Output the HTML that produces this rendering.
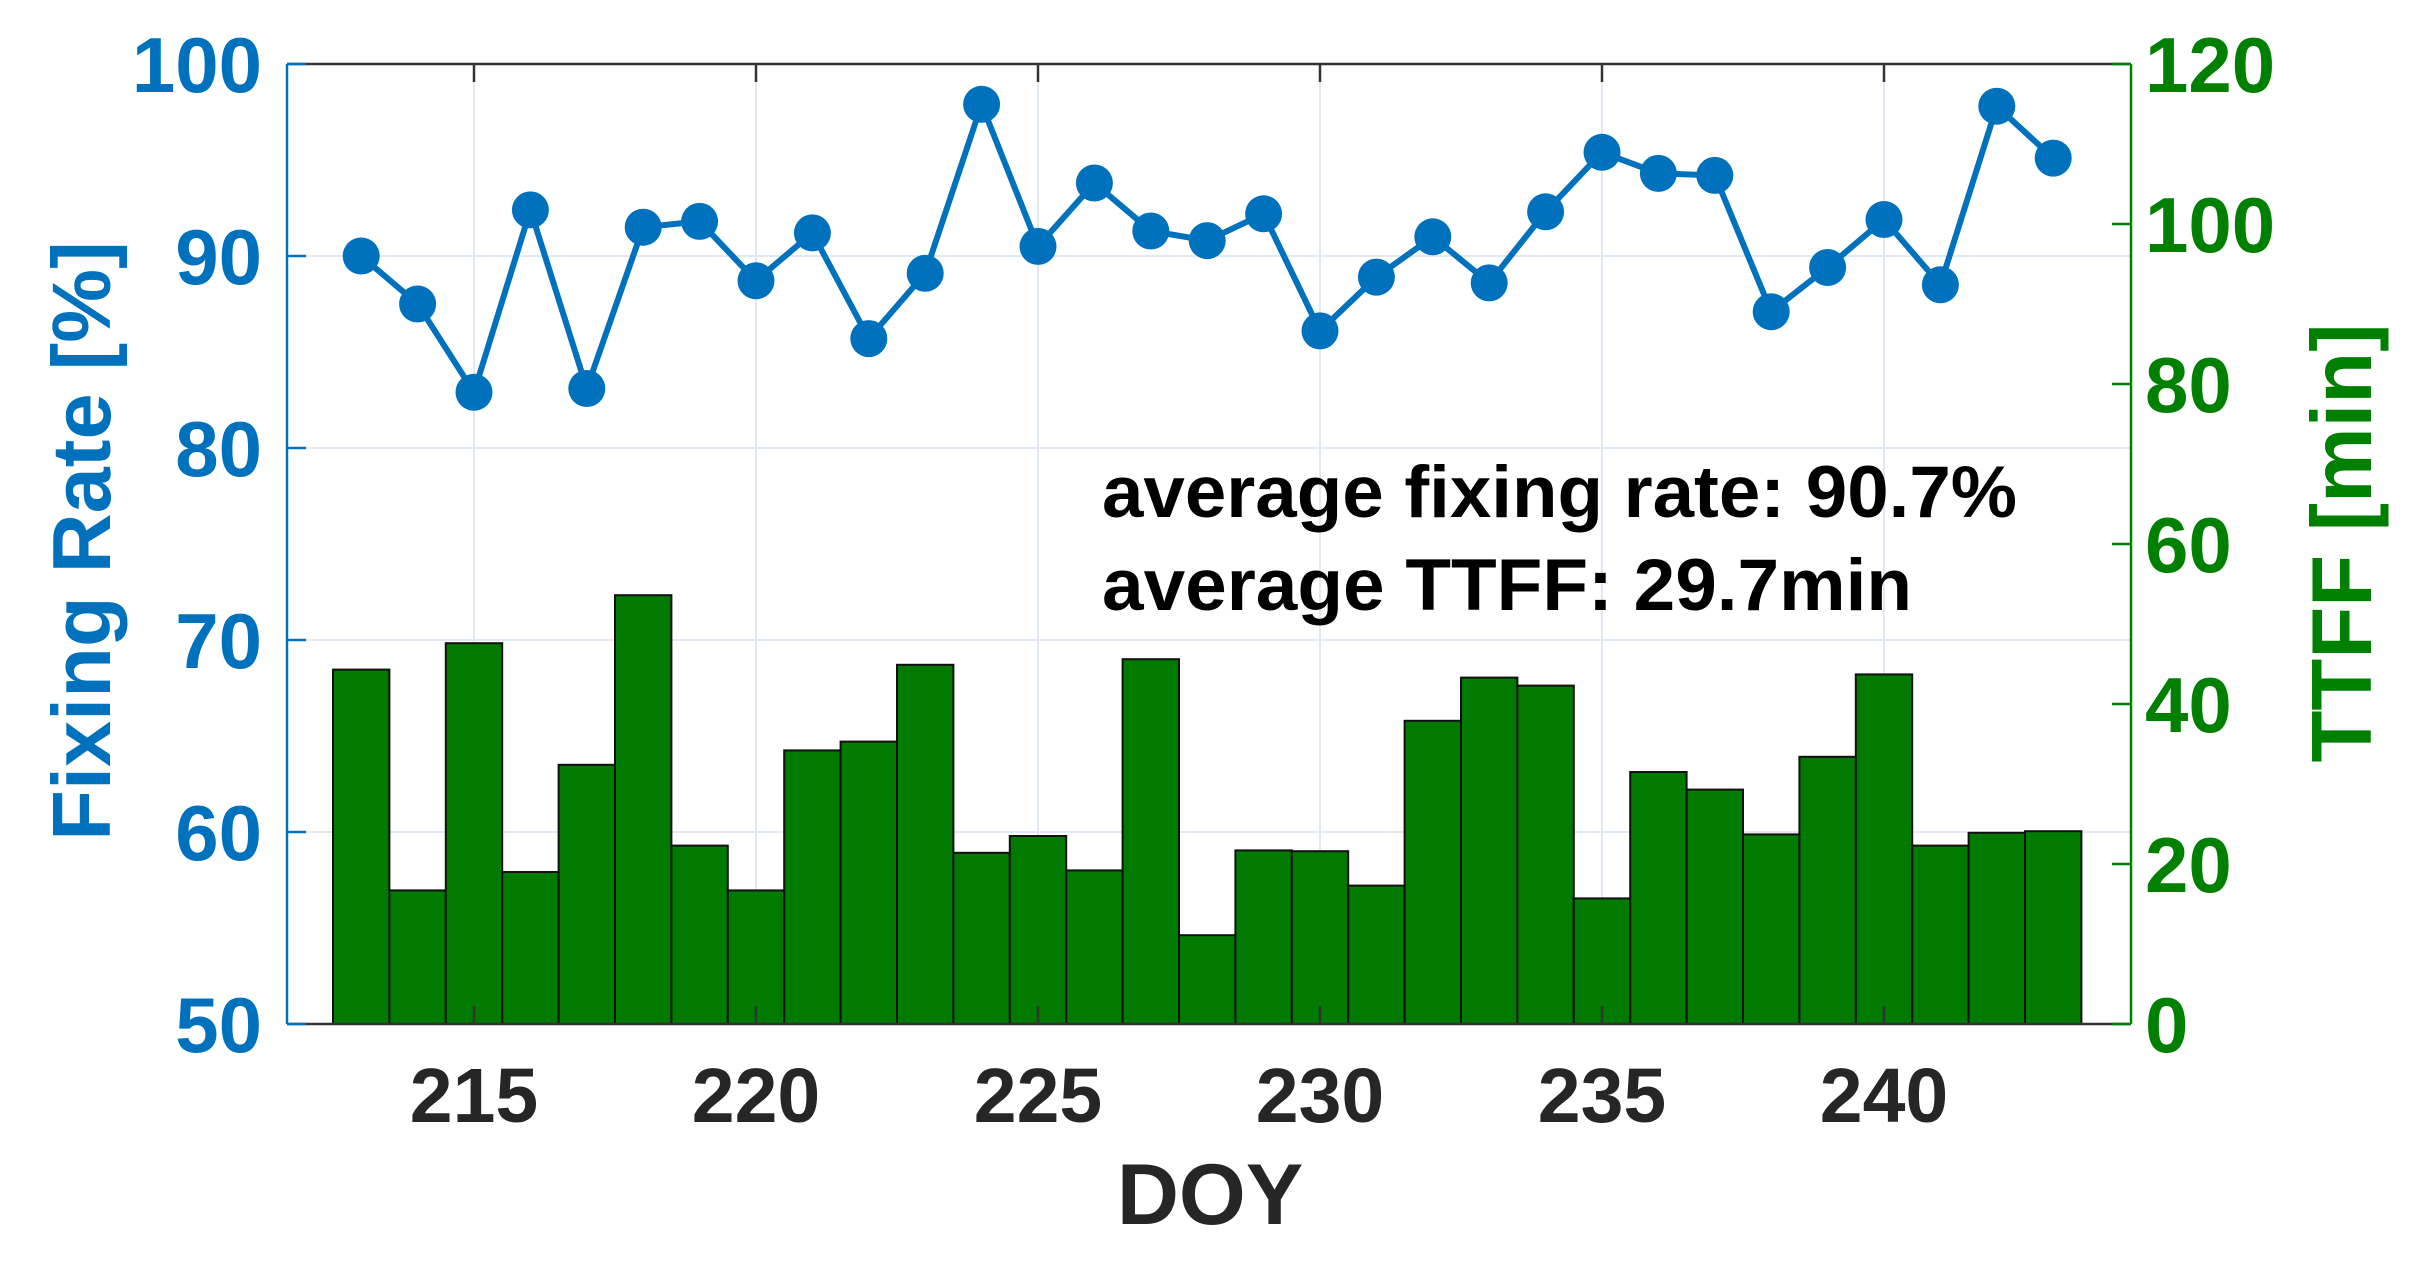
<!DOCTYPE html>
<html><head><meta charset="utf-8"><style>html,body{margin:0;padding:0;background:#fff}svg{display:block}</style></head>
<body>
<svg width="2431" height="1265" viewBox="0 0 2431 1265" xmlns="http://www.w3.org/2000/svg" font-family="Liberation Sans, Arial, sans-serif" font-weight="bold">
<rect width="2431" height="1265" fill="#fff"/>
<g stroke="#e1e9f2" stroke-width="2">
<line x1="474" y1="64" x2="474" y2="1024"/><line x1="756" y1="64" x2="756" y2="1024"/><line x1="1038" y1="64" x2="1038" y2="1024"/><line x1="1320" y1="64" x2="1320" y2="1024"/><line x1="1602" y1="64" x2="1602" y2="1024"/><line x1="1884" y1="64" x2="1884" y2="1024"/>
<line x1="287" y1="256" x2="2131" y2="256"/><line x1="287" y1="448" x2="2131" y2="448"/><line x1="287" y1="640" x2="2131" y2="640"/><line x1="287" y1="832" x2="2131" y2="832"/>
</g>
<g fill="#007a00" stroke="#111" stroke-width="2">
<rect x="333" y="669.6" width="56.4" height="354.4"/>
<rect x="389.4" y="890.4" width="56.4" height="133.6"/>
<rect x="445.8" y="643.2" width="56.4" height="380.8"/>
<rect x="502.2" y="872" width="56.4" height="152"/>
<rect x="558.6" y="764.8" width="56.4" height="259.2"/>
<rect x="615" y="595.2" width="56.4" height="428.8"/>
<rect x="671.4" y="845.6" width="56.4" height="178.4"/>
<rect x="727.8" y="890.4" width="56.4" height="133.6"/>
<rect x="784.2" y="750.4" width="56.4" height="273.6"/>
<rect x="840.6" y="741.6" width="56.4" height="282.4"/>
<rect x="897" y="664.8" width="56.4" height="359.2"/>
<rect x="953.4" y="852.8" width="56.4" height="171.2"/>
<rect x="1009.8" y="836" width="56.4" height="188"/>
<rect x="1066.2" y="870.4" width="56.4" height="153.6"/>
<rect x="1122.6" y="659.2" width="56.4" height="364.8"/>
<rect x="1179" y="935.2" width="56.4" height="88.8"/>
<rect x="1235.4" y="850.4" width="56.4" height="173.6"/>
<rect x="1291.8" y="851.2" width="56.4" height="172.8"/>
<rect x="1348.2" y="885.6" width="56.4" height="138.4"/>
<rect x="1404.6" y="720.8" width="56.4" height="303.2"/>
<rect x="1461" y="677.6" width="56.4" height="346.4"/>
<rect x="1517.4" y="685.6" width="56.4" height="338.4"/>
<rect x="1573.8" y="898.4" width="56.4" height="125.6"/>
<rect x="1630.2" y="772" width="56.4" height="252"/>
<rect x="1686.6" y="789.6" width="56.4" height="234.4"/>
<rect x="1743" y="834.4" width="56.4" height="189.6"/>
<rect x="1799.4" y="756.8" width="56.4" height="267.2"/>
<rect x="1855.8" y="674.4" width="56.4" height="349.6"/>
<rect x="1912.2" y="845.6" width="56.4" height="178.4"/>
<rect x="1968.6" y="832.8" width="56.4" height="191.2"/>
<rect x="2025" y="831.2" width="56.4" height="192.8"/>
</g>
<line x1="287" y1="64" x2="2131" y2="64" stroke="#333" stroke-width="2.5"/>
<line x1="287" y1="1024" x2="2131" y2="1024" stroke="#333" stroke-width="2.5"/>
<line x1="287" y1="64" x2="287" y2="1024" stroke="#0072bd" stroke-width="2.5"/>
<line x1="2131" y1="64" x2="2131" y2="1024" stroke="#008000" stroke-width="2.5"/>
<g stroke="#333" stroke-width="2.5">
<line x1="474" y1="64" x2="474" y2="82"/><line x1="756" y1="64" x2="756" y2="82"/><line x1="1038" y1="64" x2="1038" y2="82"/><line x1="1320" y1="64" x2="1320" y2="82"/><line x1="1602" y1="64" x2="1602" y2="82"/><line x1="1884" y1="64" x2="1884" y2="82"/>
<line x1="474" y1="1024" x2="474" y2="1006"/><line x1="756" y1="1024" x2="756" y2="1006"/><line x1="1038" y1="1024" x2="1038" y2="1006"/><line x1="1320" y1="1024" x2="1320" y2="1006"/><line x1="1602" y1="1024" x2="1602" y2="1006"/><line x1="1884" y1="1024" x2="1884" y2="1006"/>
</g>
<g stroke="#0072bd" stroke-width="2.5">
<line x1="287" y1="64" x2="306" y2="64"/><line x1="287" y1="256" x2="306" y2="256"/><line x1="287" y1="448" x2="306" y2="448"/><line x1="287" y1="640" x2="306" y2="640"/><line x1="287" y1="832" x2="306" y2="832"/><line x1="287" y1="1024" x2="306" y2="1024"/>
</g>
<g stroke="#008000" stroke-width="2.5">
<line x1="2112" y1="64" x2="2131" y2="64"/><line x1="2112" y1="224" x2="2131" y2="224"/><line x1="2112" y1="384" x2="2131" y2="384"/><line x1="2112" y1="544" x2="2131" y2="544"/><line x1="2112" y1="704" x2="2131" y2="704"/><line x1="2112" y1="864" x2="2131" y2="864"/><line x1="2112" y1="1024" x2="2131" y2="1024"/>
</g>
<polyline fill="none" stroke="#0072bd" stroke-width="6" stroke-linejoin="round" points="361.2,256 417.6,304 474,392.3 530.4,209.9 586.8,388.5 643.2,227.2 699.6,221.4 756,280.8 812.4,232.9 868.8,338.6 925.2,273.3 981.6,104.3 1038,246.4 1094.4,183 1150.8,231 1207.2,240.6 1263.6,213.8 1320,330.9 1376.4,277.1 1432.8,236.8 1489.2,282.9 1545.6,211.8 1602,152.3 1658.4,173.4 1714.8,175.4 1771.2,311.7 1827.6,267.5 1884,219.5 1940.4,284.8 1996.8,106.2 2053.2,158.1"/>
<g fill="#0072bd">
<circle cx="361.2" cy="256" r="18.5"/><circle cx="417.6" cy="304" r="18.5"/><circle cx="474" cy="392.3" r="18.5"/><circle cx="530.4" cy="209.9" r="18.5"/><circle cx="586.8" cy="388.5" r="18.5"/><circle cx="643.2" cy="227.2" r="18.5"/><circle cx="699.6" cy="221.4" r="18.5"/><circle cx="756" cy="280.8" r="18.5"/><circle cx="812.4" cy="232.9" r="18.5"/><circle cx="868.8" cy="338.6" r="18.5"/><circle cx="925.2" cy="273.3" r="18.5"/><circle cx="981.6" cy="104.3" r="18.5"/><circle cx="1038" cy="246.4" r="18.5"/><circle cx="1094.4" cy="183" r="18.5"/><circle cx="1150.8" cy="231" r="18.5"/><circle cx="1207.2" cy="240.6" r="18.5"/><circle cx="1263.6" cy="213.8" r="18.5"/><circle cx="1320" cy="330.9" r="18.5"/><circle cx="1376.4" cy="277.1" r="18.5"/><circle cx="1432.8" cy="236.8" r="18.5"/><circle cx="1489.2" cy="282.9" r="18.5"/><circle cx="1545.6" cy="211.8" r="18.5"/><circle cx="1602" cy="152.3" r="18.5"/><circle cx="1658.4" cy="173.4" r="18.5"/><circle cx="1714.8" cy="175.4" r="18.5"/><circle cx="1771.2" cy="311.7" r="18.5"/><circle cx="1827.6" cy="267.5" r="18.5"/><circle cx="1884" cy="219.5" r="18.5"/><circle cx="1940.4" cy="284.8" r="18.5"/><circle cx="1996.8" cy="106.2" r="18.5"/><circle cx="2053.2" cy="158.1" r="18.5"/>
</g>
<text x="1102" y="517" font-size="73" fill="#000" textLength="915" lengthAdjust="spacingAndGlyphs">average fixing rate: 90.7%</text>
<text x="1102" y="610" font-size="73" fill="#000" textLength="810" lengthAdjust="spacingAndGlyphs">average TTFF: 29.7min</text>
<g fill="#0072bd" font-size="78" text-anchor="end">
<text x="262" y="92">100</text><text x="262" y="284">90</text><text x="262" y="476">80</text><text x="262" y="668">70</text><text x="262" y="860">60</text><text x="262" y="1052">50</text>
</g>
<g fill="#008000" font-size="78" text-anchor="start">
<text x="2145" y="92">120</text><text x="2145" y="252">100</text><text x="2145" y="412">80</text><text x="2145" y="572">60</text><text x="2145" y="732">40</text><text x="2145" y="892">20</text><text x="2145" y="1052">0</text>
</g>
<g fill="#262626" font-size="77" text-anchor="middle">
<text x="474" y="1122">215</text><text x="756" y="1122">220</text><text x="1038" y="1122">225</text><text x="1320" y="1122">230</text><text x="1602" y="1122">235</text><text x="1884" y="1122">240</text>
</g>
<text x="1210" y="1224" font-size="86" fill="#262626" text-anchor="middle">DOY</text>
<text transform="translate(110,541) rotate(-90)" font-size="83" fill="#0072bd" text-anchor="middle">Fixing Rate [%]</text>
<text transform="translate(2371,543) rotate(-90)" font-size="85" fill="#008000" text-anchor="middle">TTFF [min]</text>
</svg>
</body></html>
